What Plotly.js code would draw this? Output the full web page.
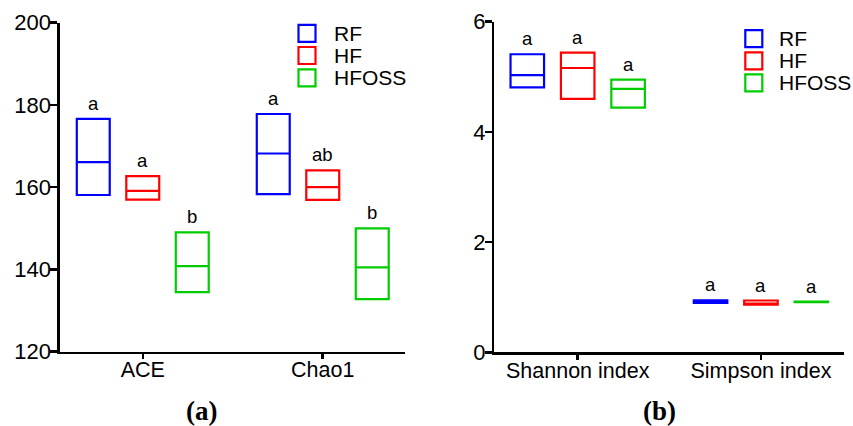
<!DOCTYPE html>
<html>
<head>
<meta charset="utf-8">
<script src="https://cdn.plot.ly/plotly-3.0.1.min.js"></script>
<style>html,body{margin:0;padding:0;background:#fff;}#chart{width:853px;height:426px;}</style>
</head>
<body>
<div id="chart"></div>
<script>
// ---- data ----
const groups = ['RF', 'HF', 'HFOSS'];
const colors = ['#0000FF', '#FF0000', '#00CC00'];

// panel (a)
const categoriesA = ['ACE', 'Chao1'];
const rfA_q1 = [158.1, 158.3];
const rfA_med = [166.1, 168.2];
const rfA_q3 = [176.6, 177.8];
const hfA_q1 = [157.0, 156.9];
const hfA_med = [159.1, 160.0];
const hfA_q3 = [162.7, 164.1];
const hfossA_q1 = [134.5, 132.8];
const hfossA_med = [140.8, 140.5];
const hfossA_q3 = [149.0, 150.0];
const lettersA_rf = ['a', 'a'];
const lettersA_hf = ['a', 'ab'];
const lettersA_hfoss = ['b', 'b'];
const yTicksA = [120, 140, 160, 180, 200];

// panel (b)
const categoriesB = ['Shannon index', 'Simpson index'];
const rfB_q1 = [4.81, 0.895];
const rfB_med = [5.03, 0.92];
const rfB_q3 = [5.41, 0.945];
const hfB_q1 = [4.60, 0.865];
const hfB_med = [5.16, 0.885];
const hfB_q3 = [5.44, 0.94];
const hfossB_q1 = [4.44, 0.91];
const hfossB_med = [4.78, 0.915];
const hfossB_q3 = [4.95, 0.92];
const lettersB_rf = ['a', 'a'];
const lettersB_hf = ['a', 'a'];
const lettersB_hfoss = ['a', 'a'];
const yTicksB = [0, 2, 4, 6];

const panelLabels = ['(a)', '(b)'];

// ---- build ----
const W = 853, H = 426;
const offsets = [-0.275, 0, 0.275];
const boxWidth = 0.183;
const FONT = 'Liberation Sans, Arial, sans-serif';

const statsA = [[rfA_q1, rfA_med, rfA_q3, lettersA_rf], [hfA_q1, hfA_med, hfA_q3, lettersA_hf], [hfossA_q1, hfossA_med, hfossA_q3, lettersA_hfoss]];
const statsB = [[rfB_q1, rfB_med, rfB_q3, lettersB_rf], [hfB_q1, hfB_med, hfB_q3, lettersB_hf], [hfossB_q1, hfossB_med, hfossB_q3, lettersB_hfoss]];

const traces = [];
const annotations = [];
const shapes = [];

function addPanel(stats, cats, xa, ya) {
  stats.forEach((s, gi) => {
    const xs = cats.map((c, ci) => ci + offsets[gi]);
    traces.push({
      type: 'box',
      name: groups[gi],
      x: xs,
      q1: s[0], median: s[1], q3: s[2],
      lowerfence: s[0], upperfence: s[2],
      width: boxWidth,
      whiskerwidth: 0,
      boxpoints: false,
      fillcolor: 'rgba(0,0,0,0)',
      line: {color: colors[gi], width: 2.2},
      xaxis: xa, yaxis: ya,
      showlegend: false,
      hoverinfo: 'skip'
    });
    xs.forEach((x, k) => {
      annotations.push({
        x: x, y: s[2][k], xref: xa, yref: ya,
        text: s[3][k], showarrow: false,
        yanchor: 'bottom', yshift: 3,
        font: {family: FONT, size: 18.5, color: '#000'}
      });
    });
  });
}
addPanel(statsA, categoriesA, 'x', 'y');
addPanel(statsB, categoriesB, 'x2', 'y2');

// legends (drawn as key boxes + labels)
function addLegend(iconLeft, textLeft, centers) {
  groups.forEach((g, gi) => {
    const cy = centers[gi];
    shapes.push({type: 'rect', xref: 'paper', yref: 'paper',
      x0: iconLeft / W, x1: (iconLeft + 17) / W,
      y0: (H - cy - 8.5) / H, y1: (H - cy + 8.5) / H,
      line: {color: colors[gi], width: 2.2}, fillcolor: 'rgba(0,0,0,0)'});
    annotations.push({xref: 'paper', yref: 'paper', x: textLeft / W, y: (H - cy) / H,
      xanchor: 'left', yanchor: 'middle', text: g, showarrow: false,
      font: {family: FONT, size: 21, color: '#000'}});
  });
}
addLegend(298.5, 332, [33.3, 55.5, 77.8]);
addLegend(745.3, 777, [38.7, 60.8, 82.8]);

annotations.push({xref: 'paper', yref: 'paper', x: 0.2365, y: 0.035, text: '<b>' + panelLabels[0] + '</b>', showarrow: false,
  xanchor: 'center', yanchor: 'middle', font: {family: 'Liberation Serif, Times New Roman, serif', size: 27, color: '#000'}});
annotations.push({xref: 'paper', yref: 'paper', x: 0.7737, y: 0.035, text: '<b>' + panelLabels[1] + '</b>', showarrow: false,
  xanchor: 'center', yanchor: 'middle', font: {family: 'Liberation Serif, Times New Roman, serif', size: 27, color: '#000'}});

const axisCommon = {
  showline: true, linecolor: '#000', linewidth: 2.5,
  ticks: 'outside', tickwidth: 2.5, tickcolor: '#000',
  showgrid: false, zeroline: false, fixedrange: true
};
const xFont = {family: FONT, size: 21.5, color: '#000'};
const yFont = {family: FONT, size: 22, color: '#000'};

const layout = {
  width: W, height: H,
  margin: {l: 0, r: 0, t: 0, b: 0},
  paper_bgcolor: '#fff', plot_bgcolor: '#fff',
  showlegend: false,
  xaxis: Object.assign({}, axisCommon, {domain: [0.0703, 0.4748], range: [-0.46, 1.457], tickvals: [0, 1], ticktext: categoriesA, anchor: 'y', tickfont: xFont, ticklen: 5, ticklabelstandoff: -8}),
  yaxis: Object.assign({}, axisCommon, {domain: [0.1744, 0.9467], range: [120, 200], tickvals: yTicksA, anchor: 'x', tickfont: yFont, ticklen: 7, ticklabelstandoff: -5}),
  xaxis2: Object.assign({}, axisCommon, {domain: [0.5795, 0.9894], range: [-0.455, 1.453], tickvals: [0, 1], ticktext: categoriesB, anchor: 'y2', tickfont: xFont, ticklen: 5, ticklabelstandoff: -8}),
  yaxis2: Object.assign({}, axisCommon, {domain: [0.173, 0.949], range: [0, 6], tickvals: yTicksB, anchor: 'x2', tickfont: yFont, ticklen: 7, ticklabelstandoff: -5}),
  shapes: shapes,
  annotations: annotations
};

Plotly.newPlot('chart', traces, layout, {displayModeBar: false, staticPlot: true});
</script>
</body>
</html>
